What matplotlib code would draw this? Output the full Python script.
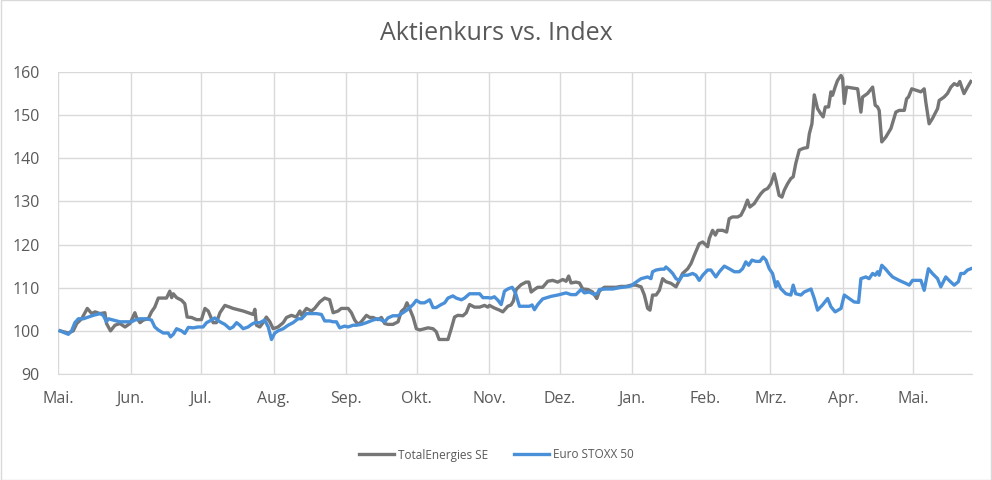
import pandas as pd
import matplotlib.pyplot as plt
import matplotlib.dates as mdates
from matplotlib.patches import Rectangle

plt.rcParams['font.family'] = ['Open Sans', 'DejaVu Sans']

# Tage seit 01.05.2021 und Werte, indexiert auf 100
start = pd.Timestamp("2021-05-01")

tage_total = [
    0.9, 4.4, 6.5, 8.0, 10.1, 12.5, 14.4, 15.8, 17.9, 20.0, 20.7, 22.4, 24.3, 26.4,
    28.6, 30.7, 32.8, 33.5, 35.0, 36.4, 38.5, 39.9, 41.3, 42.8, 44.9, 46.3, 47.7,
    48.5, 49.2, 50.6, 52.7, 54.1, 55.1, 57.0, 59.1, 61.2, 62.7, 64.1, 66.2, 67.6,
    69.1, 71.2, 73.3, 74.7, 76.9, 79.0, 81.1, 83.3, 84.0, 84.7, 86.1, 87.5, 88.9,
    90.4, 91.8, 93.9, 96.1, 97.5, 99.6, 101.7, 103.2, 103.9, 106.0, 108.1, 109.5,
    111.7, 113.8, 115.9, 117.4, 119.5, 120.9, 123.8, 125.2, 126.6, 128.0, 129.4,
    131.6, 133.0, 134.4, 136.5, 138.0, 139.4, 140.8, 142.9, 145.1, 146.5, 147.9,
    148.9, 150.0, 151.5, 152.9, 154.3, 156.4, 157.9, 160.0, 161.4, 162.6, 164.3,
    166.4, 167.8, 169.2, 170.6, 172.8, 174.2, 175.6, 177.7, 179.9, 182.0, 183.4,
    184.1, 186.2, 188.4, 189.8, 191.9, 193.3, 194.3, 195.5, 197.6, 199.7, 200.9,
    201.9, 203.3, 204.7, 206.8, 209.0, 211.1, 213.2, 215.4, 216.8, 217.9, 218.9,
    221.0, 222.5, 223.9, 226.0, 228.1, 229.9, 231.0, 233.1, 235.3, 238.1, 240.2,
    242.4, 244.5, 246.6, 248.8, 250.2, 251.6, 252.6, 253.7, 255.2, 256.6, 258.0,
    259.4, 261.6, 263.7, 265.1, 266.5, 268.7, 270.1, 271.5, 273.6, 275.1, 277.2,
    277.9, 279.3, 280.5, 281.5, 283.6, 285.3, 286.4, 287.8, 290.0, 291.4, 292.8,
    294.2, 295.2, 297.1, 298.5, 299.9, 301.3, 302.8, 304.2, 305.6, 306.3, 307.7,
    308.9, 309.9, 311.3, 312.7, 313.7, 314.8, 316.3, 318.0, 319.8, 320.6, 321.7,
    322.7, 324.1, 325.5, 326.5, 327.4, 328.8, 329.8, 330.5, 331.6, 332.6, 334.1,
    334.8, 335.5, 336.5, 339.0, 341.2, 342.6, 343.3, 345.4, 347.6, 348.7, 349.7,
    350.4, 351.5, 353.2, 355.4, 357.5, 358.9, 361.1, 362.1, 362.9, 364.3, 366.0,
    368.2, 369.6, 370.3, 371.7, 373.1, 375.3, 376.0, 378.1, 379.5, 381.0, 382.4,
    383.8, 384.8, 385.6, 386.6, 388.1, 389.5,
]
wert_total = [
    100.0, 99.5, 100.0, 101.7, 102.8, 105.2, 104.0, 104.4, 104.0, 104.2, 101.7, 100.0,
    101.3, 101.7, 100.9, 101.7, 104.2, 103.1, 101.9, 102.5, 102.8, 104.4, 105.5,
    107.6, 107.6, 107.6, 109.2, 107.7, 108.6, 107.7, 107.1, 106.3, 103.2, 103.1,
    102.6, 102.6, 105.2, 104.6, 101.9, 101.9, 104.2, 105.9, 105.5, 105.2, 104.9,
    104.6, 104.2, 103.8, 105.0, 101.3, 100.9, 101.9, 103.2, 102.1, 100.5, 100.9,
    101.9, 103.1, 103.6, 103.2, 104.6, 103.6, 105.2, 104.6, 105.2, 106.7, 107.6,
    107.2, 104.2, 104.6, 105.2, 105.2, 104.2, 102.5, 101.5, 102.1, 103.6, 103.1,
    103.1, 102.6, 103.1, 101.7, 101.5, 101.5, 102.1, 104.5, 105.2, 106.5, 105.2,
    103.2, 100.5, 100.2, 100.5, 100.7, 100.5, 99.8, 98.0, 98.0, 98.0, 100.5, 103.2,
    103.6, 103.5, 104.2, 106.1, 105.5, 105.5, 105.9, 105.5,
    105.9, 105.3, 104.8, 104.4, 105.7, 106.0, 106.9, 109.6, 110.7, 111.3, 111.3,
    109.0, 109.6, 110.1, 110.1, 111.5, 111.7, 111.3, 111.9, 111.5, 112.7, 111.1,
    111.3, 111.1, 109.7, 109.6, 109.0, 107.5, 109.2, 110.1, 110.1, 110.1, 110.3,
    110.3, 110.6, 110.6, 110.2, 108.3, 105.2, 104.8, 108.3, 108.3, 109.4, 112.1,
    111.4, 111.0, 110.2, 111.7, 113.3, 114.4, 115.6, 117.5, 120.2, 120.6, 119.5,
    121.4, 123.3, 122.2, 123.3, 123.3, 122.9, 126.0, 126.4, 126.4, 126.8, 128.3,
    130.3, 128.7, 129.5, 130.7, 131.8, 132.6, 133.0, 134.1, 136.4, 134.9, 131.4,
    131.0, 132.6, 134.1, 135.3, 135.7, 138.8, 141.9, 142.3, 142.5, 145.7, 148.0,
    154.7, 151.5, 150.3, 149.6, 151.9, 151.9, 155.4, 154.6, 156.5, 158.0, 159.2,
    158.5, 152.7, 156.5, 156.3, 156.1, 150.7, 154.2, 155.0, 156.5, 152.3, 151.9,
    151.1, 143.8, 144.9, 146.9, 150.7, 151.1, 151.1, 153.8, 154.2, 156.1, 155.8,
    155.4, 156.1, 153.0, 148.0, 149.2, 151.5, 153.4, 154.2, 155.0, 156.5, 157.3,
    156.9, 157.8, 156.5, 155.0, 156.5, 157.8,
]

tage_index = [
    0.9, 3.0, 4.4, 5.8, 7.2, 8.7, 10.8, 12.9, 15.1, 17.9, 19.3, 20.7, 21.5, 23.6,
    26.4, 29.3, 31.4, 32.8, 35.0, 37.8, 39.9, 41.3, 42.8, 44.9, 47.0, 48.0, 49.2,
    50.6, 52.7, 54.1, 55.6, 57.7, 59.8, 61.9, 63.4, 65.5, 66.9, 69.1, 71.2, 73.3,
    74.7, 76.2, 77.6, 79.0, 81.1, 82.6, 84.0, 86.1, 88.2, 89.7, 91.1, 92.5, 93.9,
    96.1, 98.2, 100.3, 102.4, 103.9, 106.0, 108.1, 110.3, 112.4, 113.8, 115.9,
    117.4, 118.8, 120.2, 122.3, 123.8, 125.9, 127.3, 129.4, 131.6, 134.4, 136.5,
    138.0, 139.4, 140.8, 142.9, 145.1, 147.2, 149.3, 151.5, 152.9, 154.6, 156.4,
    158.6, 160.0, 161.4, 163.5, 165.0, 166.4, 168.5, 169.9, 172.1, 173.5, 175.6,
    177.7, 179.9, 181.3, 183.4,
    184.8, 186.2, 187.7, 189.1, 190.5, 191.9, 193.8, 195.2, 196.9, 199.0, 201.1,
    202.3, 203.3, 204.7, 206.8, 210.4, 213.2, 216.8, 218.9, 221.0, 223.2, 224.6,
    226.7, 228.9, 230.3, 231.0, 233.8, 236.7, 239.5, 242.4, 244.5, 245.9, 248.8,
    251.6, 253.0, 253.7, 255.2, 257.3, 258.7, 259.4, 260.9, 262.3, 263.7, 265.1,
    266.5, 268.7, 270.8, 272.2, 273.6, 275.1, 277.2, 278.6, 280.7, 282.2, 284.3,
    286.4, 288.6, 290.7, 292.1, 293.5, 294.7, 296.1, 297.8, 299.5, 300.9, 302.1,
    303.5, 304.9, 306.3, 307.0, 308.4, 310.6, 312.7, 313.7, 314.8, 317.0, 318.4,
    321.3, 322.7, 324.1, 326.2, 328.4, 329.8, 331.6, 334.1, 335.5, 337.6, 339.7,
    341.6, 342.6, 344.7, 346.1, 347.6, 348.7, 349.7, 350.4, 351.5, 353.0, 354.7,
    356.1, 358.9, 361.8, 363.2, 364.6, 366.7, 368.2, 369.6, 371.4, 373.1, 375.3,
    376.7, 378.8, 380.2, 382.4, 384.2, 385.2, 386.6, 388.1, 389.5,
]
wert_index = [
    100.0, 99.5, 99.2, 100.0, 101.9, 102.8, 102.8, 103.2, 103.6, 104.0, 103.6, 102.1,
    102.8, 102.5, 102.1, 102.1, 102.1, 102.5, 102.8, 102.8, 102.5, 100.9, 100.2,
    99.5, 99.5, 98.6, 99.2, 100.5, 100.0, 99.4, 100.8, 100.7, 100.9, 100.9, 101.9,
    102.5, 103.0, 102.1, 101.5, 100.5, 100.9, 101.9, 101.3, 100.5, 100.9, 101.5,
    101.9, 101.9, 102.5, 100.9, 98.0, 99.5, 100.0, 100.5, 101.3, 101.9, 102.8,
    102.8, 104.0, 104.0, 104.0, 103.8, 102.3, 102.3, 102.1, 102.1, 100.7, 101.1,
    100.9, 101.3, 101.3, 101.5, 101.9, 102.5, 102.8, 102.5, 102.1, 103.0, 103.5,
    103.5, 104.2, 105.0, 106.1, 107.1, 106.5, 106.5, 107.2, 105.4, 105.4, 106.1,
    106.5, 107.6, 108.1, 107.6, 107.2, 107.6, 108.6, 108.6, 108.6, 107.7, 107.7,
    107.6, 107.9, 107.1, 106.1, 109.2, 109.7, 110.1, 108.8, 105.7, 105.7, 105.7,
    106.0, 104.9, 106.1, 107.4, 108.0, 108.3, 108.8, 108.4, 108.4, 109.6, 108.8,
    109.0, 108.4, 108.8, 109.6, 109.7, 109.7, 110.0, 110.2, 110.4, 111.0, 112.1,
    112.5, 112.1, 113.7, 114.1, 114.3, 114.3, 114.8, 114.1, 113.3, 112.1, 111.7,
    112.9, 112.9, 113.3, 112.9, 111.7, 112.9, 114.1, 114.1, 112.5, 113.7, 115.0,
    114.4, 113.7, 113.7, 114.4, 116.0, 115.2, 116.4, 116.1, 116.1, 117.1, 116.4,
    114.4, 113.3, 110.2, 111.4, 109.8, 108.6, 108.3, 110.6, 108.6, 108.3, 109.0,
    109.7, 107.5, 104.8, 106.0, 107.5, 105.6, 104.4, 105.2, 108.3, 107.5, 106.7,
    106.6, 112.1, 112.5, 112.1, 113.3, 112.9, 113.7, 112.9, 115.2, 114.4, 113.3,
    112.5, 111.7, 111.0, 110.6, 111.7, 111.7, 111.7, 109.4, 114.4, 113.3, 112.1,
    110.2, 112.5, 111.7, 110.6, 111.4, 113.3, 113.3, 114.1, 114.4,
]

monate = ["Mai.", "Jun.", "Jul.", "Aug.", "Sep.", "Okt.", "Nov.", "Dez.",
          "Jan.", "Feb.", "Mrz.", "Apr.", "Mai."]

datum_total = start + pd.to_timedelta(tage_total, unit="D")
datum_index = start + pd.to_timedelta(tage_index, unit="D")
monatsanfang = pd.date_range("2021-05-01", periods=len(monate), freq="MS")

text_farbe = "#595959"
grid_farbe = "#d9d9d9"

fig = plt.figure(figsize=(9.92, 4.8), dpi=100)
ax = fig.add_axes([58 / 992, 1 - 374 / 480, (972 - 58) / 992, (374 - 72) / 480])

ax.plot(datum_total, wert_total, color="#767676", lw=2.4, label="TotalEnergies SE",
        solid_joinstyle="round")
ax.plot(datum_index, wert_index, color="#4a90d9", lw=2.4, label="Euro STOXX 50",
        solid_joinstyle="round")

ax.set_ylim(90, 160)
ax.set_yticks(range(90, 161, 10))
ax.set_xlim(start, start + pd.Timedelta(days=390))
ax.set_xticks(monatsanfang)
ax.set_xticklabels(monate)

ax.grid(True, color=grid_farbe, lw=1)
ax.set_axisbelow(True)
for s in ["top", "right", "left"]:
    ax.spines[s].set_visible(False)
ax.spines["bottom"].set_color(grid_farbe)
ax.tick_params(axis="both", length=0, colors=text_farbe, labelsize=11.5)
ax.tick_params(axis="y", pad=13)
ax.tick_params(axis="x", pad=12)

fig.text(0.5, 1 - 33 / 480, "Aktienkurs vs. Index", ha="center", va="center",
         fontsize=18, color=text_farbe)

fig.legend(loc="center", bbox_to_anchor=(0.5, 1 - 455 / 480), ncol=2, frameon=False,
           fontsize=8.5, labelcolor=text_farbe, handlelength=3.0, handletextpad=0.3,
           columnspacing=2.2)

fig.patches.append(Rectangle((0.001, 0.001), 0.998, 0.998, transform=fig.transFigure,
                             fill=False, edgecolor=grid_farbe, lw=1))

fig.savefig("out.png", dpi=100, facecolor="white")
